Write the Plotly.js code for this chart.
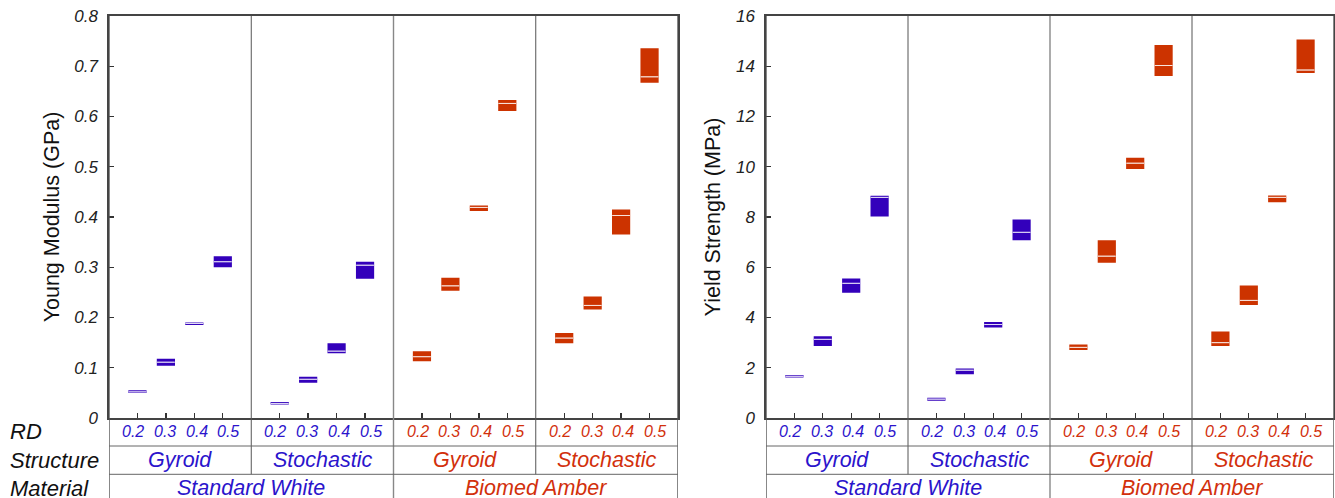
<!DOCTYPE html>
<html>
<head>
<meta charset="utf-8">
<script src="https://cdn.plot.ly/plotly-3.0.1.min.js"></script>
<style>html,body{margin:0;padding:0;background:#fff;}#chart{width:1335px;height:498px;}</style>
</head>
<body>
<div id="chart"></div>
<script>
// ---- data ----
var rdLabels = ['0.2', '0.3', '0.4', '0.5'];
var structures = ['Gyroid', 'Stochastic', 'Gyroid', 'Stochastic'];
var materials = ['Standard White', 'Biomed Amber'];
var rowLabels = ['RD', 'Structure', 'Material'];
var groupMaterial = [0, 0, 1, 1];

// Young modulus (GPa): groups in order SW-Gyroid, SW-Stochastic, BA-Gyroid, BA-Stochastic; RD 0.2..0.5
var modulusLow  = [0.050, 0.104, 0.185, 0.300,  0.027, 0.070, 0.129, 0.277,  0.113, 0.253, 0.412, 0.611,  0.149, 0.216, 0.365, 0.667];
var modulusMid  = [0.052, 0.111, 0.188, 0.311,  0.029, 0.077, 0.133, 0.304,  0.122, 0.263, 0.419, 0.626,  0.159, 0.224, 0.403, 0.679];
var modulusHigh = [0.055, 0.118, 0.190, 0.322,  0.032, 0.082, 0.149, 0.311,  0.133, 0.279, 0.423, 0.633,  0.169, 0.242, 0.415, 0.736];

// Yield strength (MPa)
var strengthLow  = [1.61, 2.87, 4.99, 8.02,  0.69, 1.74, 3.60, 7.07,  2.71, 6.18, 9.91, 13.61,  2.87, 4.50, 8.59, 13.73];
var strengthMid  = [1.66, 3.13, 5.36, 8.78,  0.75, 1.90, 3.72, 7.39,  2.81, 6.44, 10.14, 14.03,  3.00, 4.68, 8.78, 13.85];
var strengthHigh = [1.71, 3.25, 5.55, 8.85,  0.81, 1.97, 3.82, 7.90,  2.93, 7.07, 10.36, 14.85,  3.44, 5.27, 8.86, 15.06];

// ---- styling ----
var boxColors = ['#3300BB', '#CC3300'];
var textColors = ['#2B14CC', '#D2300C'];
var FONT = 'Liberation Sans, Arial, sans-serif';

// positions: group g occupies [5g, 5g+5], RD k at 5g+k+1
function xpos(i) { return Math.floor(i / 4) * 5 + (i % 4) + 1; }

var traces = [];
function addBoxes(low, mid, high, xa, ya) {
  for (var m = 0; m < 2; m++) {
    var xs = [], q1 = [], md = [], q3 = [];
    for (var i = 0; i < 16; i++) {
      if (groupMaterial[Math.floor(i / 4)] !== m) continue;
      xs.push(xpos(i)); q1.push(low[i]); md.push(mid[i]); q3.push(high[i]);
    }
    // filled min-max box
    traces.push({
      type: 'box', x: xs, q1: q1, median: md, q3: q3,
      lowerfence: q1, upperfence: q3,
      width: 0.64, whiskerwidth: 0, boxpoints: false,
      fillcolor: boxColors[m],
      line: {color: boxColors[m], width: 0},
      xaxis: xa, yaxis: ya, hoverinfo: 'skip', showlegend: false
    });
    // light median line
    traces.push({
      type: 'box', x: xs, q1: md, median: md, q3: md,
      lowerfence: md, upperfence: md,
      width: 0.62, whiskerwidth: 0, boxpoints: false,
      fillcolor: 'rgba(0,0,0,0)',
      line: {color: 'rgba(255,255,255,0.7)', width: 0.7},
      xaxis: xa, yaxis: ya, hoverinfo: 'skip', showlegend: false
    });
  }
}
addBoxes(modulusLow, modulusMid, modulusHigh, 'x', 'y');
addBoxes(strengthLow, strengthMid, strengthHigh, 'x2', 'y2');

var tickvals = [];
for (var i = 0; i < 16; i++) tickvals.push(xpos(i));

function xaxisDef(domain) {
  return {
    domain: domain, range: [0, 20], tickvals: tickvals, ticks: 'inside', ticklen: 5,
    tickwidth: 1.3, tickcolor: '#333', showticklabels: false, showgrid: false, zeroline: false,
    showline: true, mirror: true, linecolor: '#444', linewidth: 1.6, fixedrange: true
  };
}
function yaxisDef(range, dtick, anchor, title) {
  return {
    range: range, dtick: dtick, anchor: anchor, ticks: 'inside', ticklen: 5, tickwidth: 1.3,
    tickcolor: '#333', showgrid: false, zeroline: false, showline: true, mirror: true,
    linecolor: '#444', linewidth: 1.6, ticklabelstandoff: 6,
    tickfont: {family: FONT, size: 17, style: 'italic', color: '#222'},
    title: {text: title, standoff: 9, font: {family: FONT, size: 21.5, color: '#111'}},
    fixedrange: true
  };
}

var PH = 402; // plot area height in px
function py(pix) { return -(pix) / PH; } // px below the axis -> paper y
var shapes = [], annotations = [];
var rowY = [py(13.5), py(42), py(70)];
var lineY1 = py(28), lineY2 = py(56.3), bottomY = py(90);

['x', 'x2'].forEach(function (xr) {
  // group separators inside the plots and down through the table
  [5, 15].forEach(function (xv) {
    shapes.push({type: 'line', xref: xr, yref: 'paper', x0: xv, x1: xv, y0: lineY2, y1: 1,
      line: {color: '#555', width: 1}});
  });
  [0, 10, 20].forEach(function (xv) {
    shapes.push({type: 'line', xref: xr, yref: 'paper', x0: xv, x1: xv, y0: bottomY, y1: 1,
      line: {color: xv === 10 ? '#888' : '#555', width: 1.4}});
  });
  [lineY1, lineY2].forEach(function (yv) {
    shapes.push({type: 'line', xref: xr, yref: 'paper', x0: 0, x1: 20, y0: yv, y1: yv,
      line: {color: '#666', width: 1}});
  });
  // RD labels (spaced slightly wider than the ticks, centred on the group)
  for (var i = 0; i < 16; i++) {
    var g = Math.floor(i / 4);
    var k = i % 4;
    annotations.push({xref: xr, yref: 'paper', x: g * 5 + 2.52 + (k - 1.5) * 1.115, y: rowY[0], text: rdLabels[k],
      showarrow: false, xanchor: 'center', yanchor: 'middle',
      font: {family: FONT, size: 16, style: 'italic', color: textColors[groupMaterial[g]]}});
  }
  for (var g2 = 0; g2 < 4; g2++) {
    annotations.push({xref: xr, yref: 'paper', x: g2 * 5 + 2.5, y: rowY[1], text: structures[g2],
      showarrow: false, xanchor: 'center', yanchor: 'middle',
      font: {family: FONT, size: 21.5, style: 'italic', color: textColors[groupMaterial[g2]]}});
  }
  for (var m = 0; m < 2; m++) {
    annotations.push({xref: xr, yref: 'paper', x: m * 10 + 5, y: rowY[2], text: materials[m],
      showarrow: false, xanchor: 'center', yanchor: 'middle',
      font: {family: FONT, size: 21.5, style: 'italic', color: textColors[m]}});
  }
});
for (var r = 0; r < 3; r++) {
  annotations.push({xref: 'paper', yref: 'paper', x: 8 / 1335, y: rowY[r], text: rowLabels[r],
    showarrow: false, xanchor: 'left', yanchor: 'middle',
    font: {family: FONT, size: 22, style: 'italic', color: '#111'}});
}

var layout = {
  width: 1335, height: 498,
  margin: {l: 0, r: 0, t: 16, b: 80, pad: 0},
  paper_bgcolor: '#ffffff', plot_bgcolor: '#ffffff',
  showlegend: false,
  xaxis: xaxisDef([109 / 1335, 678 / 1335]),
  xaxis2: xaxisDef([766 / 1335, 1334 / 1335]),
  yaxis: yaxisDef([0, 0.8], 0.1, 'x', 'Young Modulus (GPa)'),
  yaxis2: yaxisDef([0, 16], 2, 'x2', 'Yield Strength (MPa)'),
  shapes: shapes, annotations: annotations
};
layout.xaxis2.anchor = 'y2';
layout.xaxis.anchor = 'y';

Plotly.newPlot('chart', traces, layout, {staticPlot: true, displayModeBar: false});
</script>
</body>
</html>
